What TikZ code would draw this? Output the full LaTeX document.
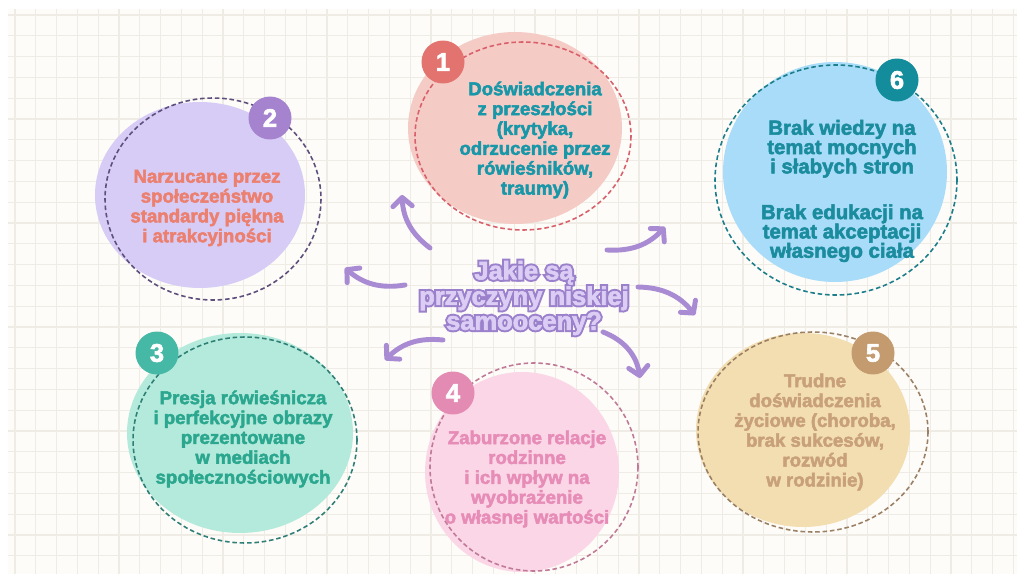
\documentclass[tikz,border=0pt]{standalone}
\usepackage{fontspec}
\setmainfont{Liberation Sans}[BoldFeatures={FakeBold=2.5}]
\newfontfamily\ringfont{Liberation Sans}[BoldFeatures={FakeBold=18}]
\usetikzlibrary{arrows.meta}

\definecolor{paper}{HTML}{FDFCF8}
\definecolor{gridc}{HTML}{EFEBE5}
\definecolor{arrowc}{HTML}{A98BD3}
\definecolor{tin}{HTML}{DCCDF5}
\definecolor{tout}{HTML}{9B80CB}
% fills, dashed rings, badges, texts
\definecolor{f1}{HTML}{F5CBC6}\definecolor{d1}{HTML}{D9606A}\definecolor{b1}{HTML}{E2736F}\definecolor{t1}{HTML}{1797A8}
\definecolor{f2}{HTML}{D6CCF6}\definecolor{d2}{HTML}{5E4F7C}\definecolor{b2}{HTML}{A583CF}\definecolor{t2}{HTML}{EC7F6E}
\definecolor{f3}{HTML}{B4EADB}\definecolor{d3}{HTML}{2F7F77}\definecolor{b3}{HTML}{45B8A6}\definecolor{t3}{HTML}{2BA78F}
\definecolor{f4}{HTML}{FBD6E6}\definecolor{d4}{HTML}{C07A98}\definecolor{b4}{HTML}{E48BB4}\definecolor{t4}{HTML}{E68CB7}
\definecolor{f5}{HTML}{F3DEB1}\definecolor{d5}{HTML}{9C8066}\definecolor{b5}{HTML}{C39B6E}\definecolor{t5}{HTML}{C8A07A}
\definecolor{f6}{HTML}{A8DCF8}\definecolor{d6}{HTML}{1B7E8A}\definecolor{b6}{HTML}{138C9B}\definecolor{t6}{HTML}{1A8C9E}

\newcommand{\asktext}{Jakie są\\przyczyny niskiej\\samooceny?}

\begin{document}
\begin{tikzpicture}[x=0.02cm,y=-0.02cm,
  gridline/.style={draw=gridc, line width=0.7pt},
  ring/.style={dash pattern=on 2.6pt off 1.6pt, line width=0.9pt},
  badge/.style={circle, minimum size=0.86cm, inner sep=0pt, text=white, font=\bfseries\fontsize{14.5}{14}\selectfont},
  cause/.style={align=center, font=\bfseries\fontsize{10.6}{11.3}\selectfont},
  asktitle/.style={align=center, font=\bfseries\fontsize{14.5}{12.7}\selectfont},
  bow/.style={draw=arrowc, line width=2.8pt, line cap=round, -{Straight Barb[length=5pt,width=11pt,round]}}]
\useasboundingbox (0,0) rectangle (1017,574);
\fill[white] (0,0) rectangle (1017,574);
\fill[paper] (8,9) rectangle (1017,574);
\foreach \k in {0,1,...,48}{\draw[gridline] ({15+20.8*\k},9) -- ({15+20.8*\k},574);}
\foreach \k in {0,1,...,26}{\draw[gridline] (8,{15+20.8*\k}) -- (1017,{15+20.8*\k});}

\foreach \i/\fx/\fy/\frx/\fry/\dx/\dy/\drx/\dry/\bx/\by in {
 1/515/128/107/96/523/136/108/94/443/62,
 2/200/195/105/93/213/199/108/101/270/118,
 3/240/433/113/100/245/440/112/103/157/353,
 4/522/472/97/100/534/467/104/104/453/393,
 5/803/430/107/97/813/432/115/100/873/353,
 6/835/172/112/110/836/180/121/115/897/80}{
\fill[f\i] (\fx,\fy) ellipse [x radius=\frx, y radius=\fry];
\draw[ring, d\i] (\dx,\dy) ellipse [x radius=\drx, y radius=\dry];
\node[badge, fill=b\i] (n\i) at (\bx,\by) {\i};
}

\node[cause, text=t1] (p1) at (535,140) {Doświadczenia\\z przeszłości\\(krytyka,\\odrzucenie przez\\rówieśników,\\traumy)};
\node[cause, text=t2] (p2) at (207,208) {Narzucane przez\\społeczeństwo\\standardy piękna\\i atrakcyjności};
\node[cause, text=t3] (p3) at (243,439) {Presja rówieśnicza\\i perfekcyjne obrazy\\prezentowane\\w mediach\\społecznościowych};
\node[cause, text=t4] (p4) at (527,479) {Zaburzone relacje\\rodzinne\\i ich wpływ na\\wyobrażenie\\o własnej wartości};
\node[cause, text=t5] (p5) at (815,432) {Trudne\\doświadczenia\\życiowe (choroba,\\brak sukcesów,\\rozwód\\w rodzinie)};
\node[cause, text=t6, font=\bfseries\fontsize{11.6}{11}\selectfont] (p6) at (842,191) {Brak wiedzy na\\temat mocnych\\i słabych stron\\[15pt]Brak edukacji na\\temat akceptacji\\własnego ciała};

\node[asktitle, text=tout, font=\ringfont\bfseries\fontsize{14.5}{12.7}\selectfont] (askring) at (524,298) {\asktext};
\node[asktitle, text=tin] (ask) at (524,298) {\asktext};

\foreach \j/\sx/\sy/\ex/\ey/\b in {
 1/430/248/402/195/25, 2/405/285/345/268/25, 6/607/250/665/227/-25,
 5/638/287/695/315/25, 3/443/340/385/360/-25, 4/603/332/640/378/30}{
\coordinate (s\j) at (\sx,\sy);
\coordinate (e\j) at (\ex,\ey);
\draw[bow] (s\j) to[bend left=\b] (e\j);
}
\end{tikzpicture}
\end{document}
